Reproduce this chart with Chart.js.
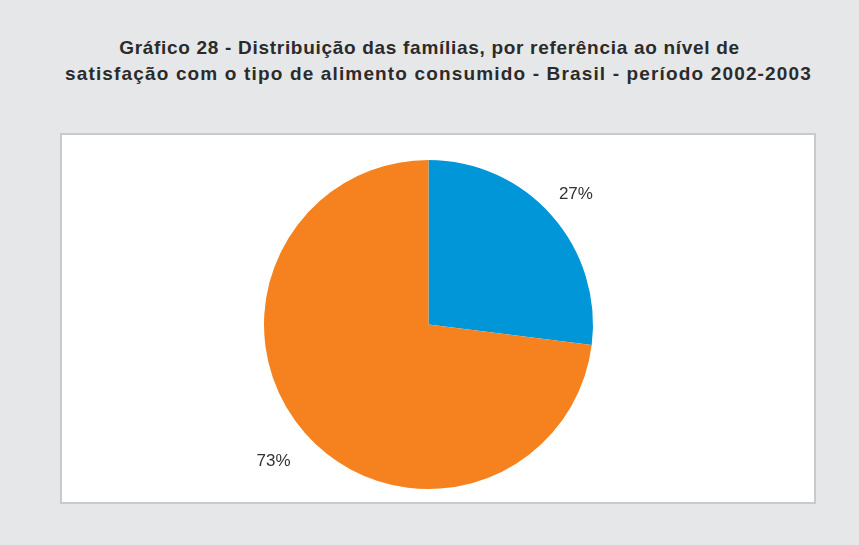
<!DOCTYPE html>
<html>
<head>
<meta charset="utf-8">
<script src="https://cdn.jsdelivr.net/npm/chart.js@4"></script>
<style>
	html, body { margin: 0; padding: 0; }
	body {
		width: 859px;
		height: 545px;
		background: #e6e7e8;
		position: relative;
		overflow: hidden;
		font-family: 'Liberation Sans', Arial, sans-serif;
	}
	#title {
		position: absolute;
		left: 0;
		top: 35px;
		width: 859px;
		text-align: center;
		font-weight: bold;
		font-size: 19px;
		line-height: 26px;
		color: #2b2b2b;
	}
	#title .l1 { letter-spacing: 0.7px; }
	#title .l2 { letter-spacing: 1.15px; position: relative; left: 9px; }
	#box {
		position: absolute;
		left: 60px;
		top: 133px;
		width: 756px;
		height: 371px;
		box-sizing: border-box;
		border: 2px solid #c9cacb;
		background: #ffffff;
	}
	#box canvas { display: block; }
</style>
</head>
<body>
<div id="title"><span class="l1">Gráfico 28 - Distribuição das famílias, por referência ao nível de</span><br><span class="l2">satisfação com o tipo de alimento consumido - Brasil - período 2002-2003</span></div>
<div id="box"><canvas id="pie" width="752" height="367"></canvas></div>
<script>
const categories = ['Satisfeitas', 'Insatisfeitas'];
const shares = [27, 73];
const sliceColors = ['#0096d8', '#f5821f'];

// percent labels outside each slice
const labelGap = [32, 42];
const outsideLabels = {
	id: 'outsideLabels',
	afterDatasetsDraw(chart) {
		const ctx = chart.ctx;
		const meta = chart.getDatasetMeta(0);
		ctx.save();
		ctx.font = '17px "Liberation Sans", Arial, sans-serif';
		ctx.fillStyle = '#333333';
		ctx.textAlign = 'center';
		ctx.textBaseline = 'middle';
		meta.data.forEach((arc, i) => {
			const p = arc.getProps(['x', 'y', 'startAngle', 'endAngle', 'outerRadius'], true);
			const mid = (p.startAngle + p.endAngle) / 2;
			const r = p.outerRadius + labelGap[i];
			ctx.fillText(`${shares[i]}%`, p.x + Math.cos(mid) * r, p.y + Math.sin(mid) * r);
		});
		ctx.restore();
	}
};

new Chart(document.getElementById('pie'), {
	type: 'pie',
	data: {
		labels: categories,
		datasets: [{
			data: shares,
			backgroundColor: sliceColors,
			borderWidth: 0
		}]
	},
	options: {
		responsive: false,
		animation: false,
		layout: {
			padding: { top: 25, bottom: 13, left: 0, right: 19 }
		},
		plugins: {
			legend: { display: false },
			tooltip: { enabled: false }
		}
	},
	plugins: [outsideLabels]
});
</script>
</body>
</html>
